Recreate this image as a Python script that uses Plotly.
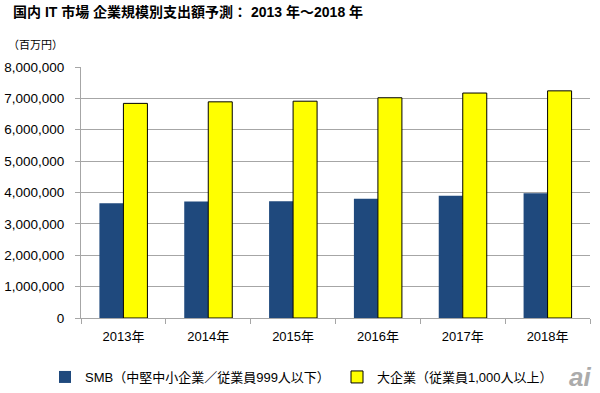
import plotly.graph_objects as go

years = ["2013年", "2014年", "2015年", "2016年", "2017年", "2018年"]
smb = [3660000, 3710000, 3720000, 3800000, 3900000, 3980000]
large = [6840000, 6890000, 6910000, 7020000, 7170000, 7240000]
smb_name = "SMB（中堅中小企業／従業員999人以下）"
large_name = "大企業（従業員1,000人以上）"
title_text = "国内 IT 市場 企業規模別支出額予測： 2013 年～2018 年"
unit_text = "（百万円）"

W, H = 600, 393
L, R, T, B = 81, 10, 67, 75
pw, ph = W - L - R, H - T - B

FONT = "Arial, 'Liberation Sans', 'Noto Sans CJK JP', sans-serif"
GRID = "#A6A6A6"
LEG_Y = 1 - 377 / H

fig = go.Figure()
fig.add_trace(go.Bar(x=years, y=smb, name=smb_name, legend="legend",
                     marker=dict(color="#1F497D", line=dict(width=0))))
fig.add_trace(go.Bar(x=years, y=large, name=large_name, legend="legend2",
                     marker=dict(color="#FFFF00", line=dict(color="#000000", width=1))))

leg_common = dict(orientation="h", xanchor="left", yanchor="middle",
                  xref="container", yref="container", y=LEG_Y,
                  font=dict(size=13), itemwidth=30, bgcolor="rgba(0,0,0,0)")

fig.update_layout(
    width=W, height=H,
    margin=dict(l=L, r=R, t=T, b=B, autoexpand=False),
    paper_bgcolor="white", plot_bgcolor="white",
    font=dict(family=FONT, size=13, color="#000000"),
    barmode="group", bargap=0.434, bargroupgap=0,
    title=dict(text=title_text, x=13 / W, xanchor="left", xref="container",
               y=1 - 12 / H, yanchor="middle", yref="container",
               font=dict(size=14, weight="bold", color="#000000")),
    showlegend=True,
    legend=dict(x=45 / W, **leg_common),
    legend2=dict(x=337 / W, **leg_common),
    xaxis=dict(type="category", showline=True, linecolor=GRID, linewidth=1,
               ticks="outside", ticklen=5, tickcolor=GRID, tickson="boundaries",
               showgrid=False, tickfont=dict(size=13), ticklabelstandoff=6,
               automargin=False),
    yaxis=dict(range=[0, 8000000], dtick=1000000, tickformat=",",
               showline=True, linecolor=GRID, linewidth=1,
               ticks="outside", ticklen=5, tickcolor=GRID,
               showgrid=True, gridcolor=GRID, gridwidth=1,
               zeroline=False, tickfont=dict(size=13.5), ticklabelstandoff=8,
               automargin=False),
    annotations=[
        dict(text=unit_text, xref="paper", yref="paper",
             x=(6 - L) / pw, y=(T + ph - 44) / ph, xanchor="left", yanchor="middle",
             showarrow=False,
             font=dict(size=11, color="#000000", family="'Noto Sans CJK JP', sans-serif")),
        dict(text="<i><b>ai</b></i>", xref="paper", yref="paper",
             x=(593 - L) / pw, y=(T + ph - 377) / ph, xanchor="right", yanchor="middle",
             showarrow=False, font=dict(size=26, color="#ABABAB",
                                        family="'Liberation Sans', sans-serif")),
    ],
)

fig.write_html("out.html", config={"displayModeBar": False},
               post_script="document.body.style.margin='0';")
